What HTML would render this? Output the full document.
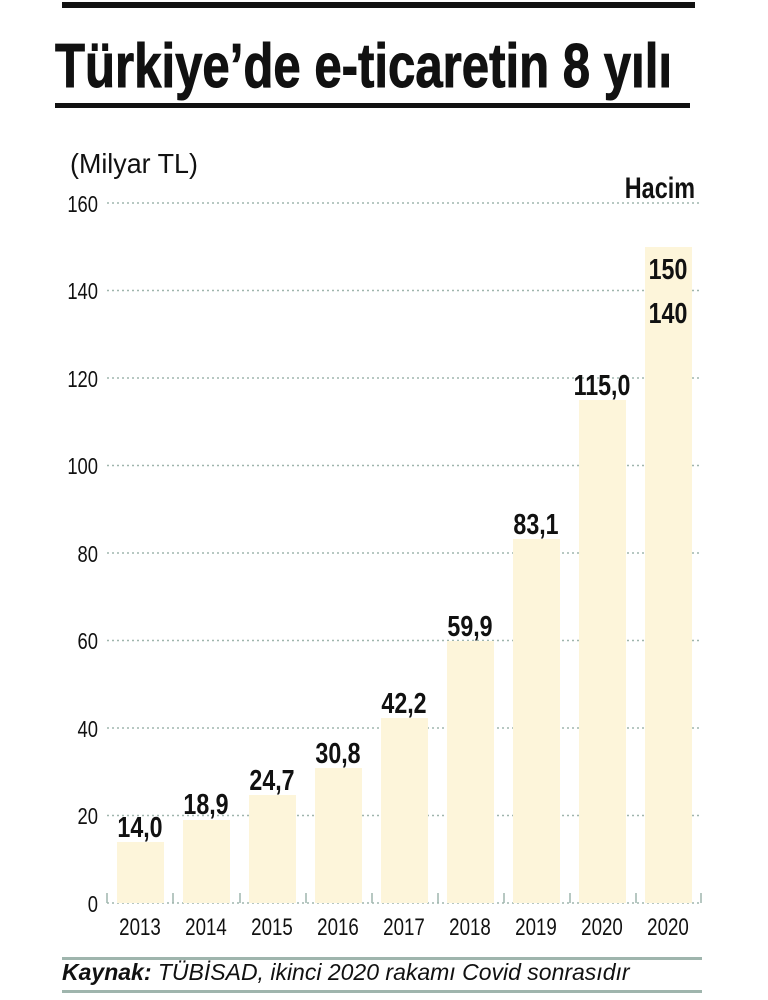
<!DOCTYPE html>
<html><head><meta charset="utf-8"><style>body{margin:0;background:#fff}svg{display:block}</style></head>
<body>
<svg width="768" height="1000" xmlns="http://www.w3.org/2000/svg" font-family="Liberation Sans, sans-serif">
<rect x="62" y="2" width="633" height="6" fill="#111"/>
<text x="55" y="87" font-size="62" font-weight="bold" textLength="617" lengthAdjust="spacingAndGlyphs" fill="#111" stroke="#111" stroke-width="1">Türkiye’de e-ticaretin 8 yılı</text>
<rect x="55" y="103" width="635" height="5" fill="#111"/>
<text transform="translate(70,173) scale(0.96,1)" font-size="28" fill="#111">(Milyar TL)</text>
<text transform="translate(695,198) scale(0.78,1)" text-anchor="end" font-size="30" font-weight="bold" fill="#111">Hacim</text>
<g stroke="#9fb5ad" stroke-width="1.5" stroke-dasharray="2,3">
<line x1="107" y1="203" x2="700" y2="203"/><line x1="107" y1="290.5" x2="700" y2="290.5"/>
<line x1="107" y1="378" x2="700" y2="378"/><line x1="107" y1="465.5" x2="700" y2="465.5"/>
<line x1="107" y1="553" x2="700" y2="553"/><line x1="107" y1="640.5" x2="700" y2="640.5"/>
<line x1="107" y1="728" x2="700" y2="728"/><line x1="107" y1="815.5" x2="700" y2="815.5"/>
<line x1="107" y1="903" x2="700" y2="903"/>
</g>
<g font-size="23" fill="#111" text-anchor="end">
<text transform="translate(98,212) scale(0.8,1)">160</text><text transform="translate(98,299) scale(0.8,1)">140</text><text transform="translate(98,387) scale(0.8,1)">120</text>
<text transform="translate(98,474) scale(0.8,1)">100</text><text transform="translate(98,562) scale(0.8,1)">80</text><text transform="translate(98,649) scale(0.8,1)">60</text>
<text transform="translate(98,737) scale(0.8,1)">40</text><text transform="translate(98,824) scale(0.8,1)">20</text><text transform="translate(98,912) scale(0.8,1)">0</text>
</g>
<g fill="#fdf5da">
<rect x="117" y="842" width="47" height="61"/>
<rect x="183" y="820" width="47" height="83"/>
<rect x="249" y="795" width="47" height="108"/>
<rect x="315" y="768" width="47" height="135"/>
<rect x="381" y="718" width="47" height="185"/>
<rect x="447" y="641" width="47" height="262"/>
<rect x="513" y="539" width="47" height="364"/>
<rect x="579" y="400" width="47" height="503"/>
<rect x="645" y="247" width="47" height="656"/>
</g>
<g stroke="#9fb5ad" stroke-width="1.5">
<line x1="107" y1="893" x2="107" y2="903"/><line x1="173" y1="893" x2="173" y2="903"/>
<line x1="240" y1="893" x2="240" y2="903"/><line x1="306" y1="893" x2="306" y2="903"/>
<line x1="372" y1="893" x2="372" y2="903"/><line x1="438" y1="893" x2="438" y2="903"/>
<line x1="504" y1="893" x2="504" y2="903"/><line x1="570" y1="893" x2="570" y2="903"/>
<line x1="636" y1="893" x2="636" y2="903"/><line x1="701" y1="893" x2="701" y2="903"/>
</g>
<g font-size="29" font-weight="bold" fill="#111" text-anchor="middle">
<text transform="translate(140,837) scale(0.8,1)">14,0</text><text transform="translate(206,814) scale(0.8,1)">18,9</text><text transform="translate(272,790) scale(0.8,1)">24,7</text>
<text transform="translate(338,763) scale(0.8,1)">30,8</text><text transform="translate(404,713) scale(0.8,1)">42,2</text><text transform="translate(470,636) scale(0.8,1)">59,9</text>
<text transform="translate(536,534) scale(0.8,1)">83,1</text><text transform="translate(602,395) scale(0.8,1)">115,0</text>
<text transform="translate(668,279) scale(0.8,1)">150</text><text transform="translate(668,323) scale(0.8,1)">140</text>
</g>
<g font-size="24" fill="#111" text-anchor="middle">
<text transform="translate(140,935) scale(0.78,1)">2013</text><text transform="translate(206,935) scale(0.78,1)">2014</text><text transform="translate(272,935) scale(0.78,1)">2015</text>
<text transform="translate(338,935) scale(0.78,1)">2016</text><text transform="translate(404,935) scale(0.78,1)">2017</text><text transform="translate(470,935) scale(0.78,1)">2018</text>
<text transform="translate(536,935) scale(0.78,1)">2019</text><text transform="translate(602,935) scale(0.78,1)">2020</text><text transform="translate(668,935) scale(0.78,1)">2020</text>
</g>
<rect x="62" y="957" width="640" height="3" fill="#9fb5ad"/>
<text transform="translate(62,980) scale(1.0,1)" font-size="23" font-style="italic" fill="#111"><tspan font-weight="bold">Kaynak:</tspan> TÜBİSAD, ikinci 2020 rakamı Covid sonrasıdır</text>
<rect x="62" y="990" width="640" height="3" fill="#9fb5ad"/>
</svg>
</body></html>
